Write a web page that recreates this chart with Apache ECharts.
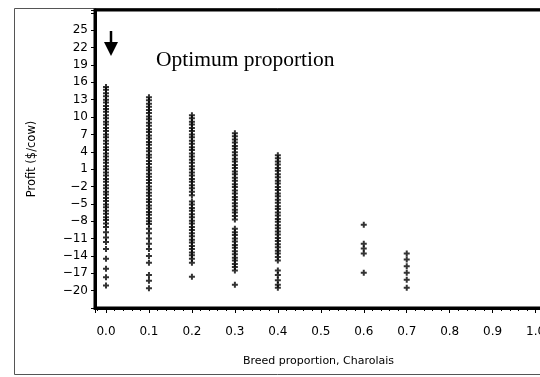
<!DOCTYPE html>
<html>
<head>
<meta charset="utf-8">
<script src="https://cdn.jsdelivr.net/npm/echarts@6.0.0/dist/echarts.min.js"></script>
<style>
    html, body { margin: 0; padding: 0; background: #fff; }
    #chart { width: 540px; height: 377px; }
</style>
</head>
<body>
<div id="chart"></div>
<script>
// breed proportion (Charolais) of each column
var proportions = [0.0, 0.1, 0.2, 0.3, 0.4, 0.6, 0.7];
// profit values ($/cow)
var profit00 = [15.2, 14.7, 14.1, 13.6, 13.0, 12.5, 11.9, 11.4, 10.9, 10.3, 9.8, 9.2, 8.7, 8.1, 7.6, 7.0, 6.5,
    5.9, 5.4, 4.8, 4.3, 3.7, 3.2, 2.6, 2.1, 1.5, 1.0, 0.4, -0.1, -0.7, -1.2, -1.8, -2.3, -2.9, -3.4, -4.0,
    -4.5, -5.1, -5.6, -6.2, -6.7, -7.3, -7.8, -8.4, -9.0, -9.9, -10.8, -11.6, -12.8, -14.5, -16.2, -17.7, -19.1];
var profit01 = [13.4, 12.9, 12.3, 11.8, 11.2, 10.7, 10.1, 9.6, 9.0, 8.5, 7.9, 7.4, 6.8, 6.3, 5.7, 5.2, 4.6,
    4.1, 3.5, 3.0, 2.4, 1.9, 1.3, 0.8, 0.2, -0.3, -0.9, -1.4, -2.0, -2.5, -3.1, -3.6, -4.2, -4.7, -5.3,
    -5.8, -6.4, -6.9, -7.5, -8.0, -8.5, -9.3, -10.1, -11.0, -11.9, -12.8, -14.0, -15.2, -17.3, -18.3, -19.6];
var profit02 = [10.3, 9.8, 9.2, 8.7, 8.1, 7.6, 7.0, 6.5, 5.9, 5.4, 4.8, 4.3, 3.7, 3.2, 2.6, 2.1, 1.5, 1.0,
    0.4, -0.1, -0.7, -1.2, -1.8, -2.3, -2.9, -3.5, -4.6, -5.1, -5.7, -6.2, -6.8, -7.3, -7.9, -8.4, -9.0,
    -9.5, -10.1, -10.6, -11.2, -11.7, -12.3, -12.8, -13.4, -13.9, -14.5, -15.2, -17.6];
var profit03 = [7.2, 6.7, 6.1, 5.6, 5.0, 4.5, 3.9, 3.4, 2.8, 2.3, 1.7, 1.2, 0.6, 0.1, -0.5, -1.0, -1.6, -2.1,
    -2.7, -3.2, -3.8, -4.3, -4.9, -5.4, -6.0, -6.5, -7.1, -7.7, -9.3, -9.9, -10.4, -11.0, -11.5, -12.1,
    -12.6, -13.2, -13.7, -14.3, -14.8, -15.4, -15.9, -16.5, -19.0];
var profit04 = [3.4, 2.9, 2.3, 1.8, 1.2, 0.7, 0.1, -0.4, -1.0, -1.5, -2.1, -2.6, -3.2, -3.7, -4.3, -4.8, -5.4,
    -5.9, -6.5, -7.0, -7.6, -8.1, -8.7, -9.2, -9.8, -10.3, -10.9, -11.4, -12.0, -12.5, -13.1, -13.6,
    -14.2, -14.8, -16.5, -17.3, -18.2, -19.0, -19.5];
var profit06 = [-8.6, -11.9, -12.7, -13.6, -16.9];
var profit07 = [-13.6, -14.6, -15.8, -16.9, -18.1, -19.5];
var profitColumns = [profit00, profit01, profit02, profit03, profit04, profit06, profit07];

var yTickMin = -20;
var yTickMax = 25;

var points = [];
proportions.forEach(function (p, i) {
    profitColumns[i].forEach(function (v) {
        points.push([p, v]);
    });
});

var myChart = echarts.init(document.getElementById('chart'));
var font = 'DejaVu Sans';
var option = {
    animation: false,
    backgroundColor: '#fff',
    title: {
        text: 'Optimum proportion',
        left: 151,
        top: 44,
        textStyle: {
            fontFamily: 'Liberation Serif',
            fontSize: 21.5,
            fontWeight: 'normal',
            color: '#000'
        }
    },
    grid: {
        left: 95,
        top: 10,
        width: 475,
        bottom: 69,
        outerBoundsMode: 'none',
        show: true,
        borderColor: '#000',
        borderWidth: 3,
        backgroundColor: 'transparent'
    },
    xAxis: {
        type: 'value',
        min: -0.0256,
        max: 1.08,
        splitNumber: 11,
        name: 'Breed proportion, Charolais',
        nameLocation: 'middle',
        nameGap: 48,
        nameTextStyle: {
            fontFamily: font,
            fontSize: 11,
            color: '#000',
            padding: [0, 28, 0, 0]
        },
        axisLine: { onZero: false, lineStyle: { color: '#000', width: 3 } },
        axisTick: { length: 5, lineStyle: { color: '#000', width: 1 } },
        minorTick: { show: true, splitNumber: 5, length: 3, lineStyle: { color: '#000', width: 1 } },
        splitLine: { show: false },
        axisLabel: {
            fontFamily: font,
            fontSize: 12,
            color: '#000',
            margin: 18,
            formatter: function (v) {
                if (v < -0.001 || v > 1.001) return '';
                return v.toFixed(1);
            }
        }
    },
    yAxis: {
        type: 'value',
        min: -23,
        max: 28.5,
        interval: 3,
        name: 'Profit ($/cow)',
        nameLocation: 'middle',
        nameGap: 57,
        nameTextStyle: {
            fontFamily: font,
            fontSize: 11.5,
            color: '#000'
        },
        axisLine: { onZero: false, lineStyle: { color: '#000', width: 3 } },
        axisTick: { length: 4, lineStyle: { color: '#000', width: 1 } },
        splitLine: { show: false },
        axisLabel: {
            fontFamily: font,
            fontSize: 12,
            color: '#000',
            margin: 7,
            formatter: function (v) {
                if (v < yTickMin || v > yTickMax) return '';
                return v < 0 ? '\u2212' + (-v) : String(v);
            }
        }
    },
    graphic: [
        {
            type: 'rect',
            shape: { x: 14.5, y: 8.5, width: 700, height: 366 },
            style: { fill: 'none', stroke: '#555', lineWidth: 1 },
            silent: true,
            z: -1
        },
        {
            type: 'line',
            shape: { x1: 111, y1: 31, x2: 111, y2: 45 },
            style: { stroke: '#000', lineWidth: 2.5 }
        },
        {
            type: 'polygon',
            shape: { points: [[104, 42], [118, 42], [111, 56]] },
            style: { fill: '#000' }
        }
    ],
    series: [
        {
            type: 'scatter',
            symbol: 'path://M2,0H4V2H6V4H4V6H2V4H0V2H2Z',
            symbolSize: 6,
            itemStyle: { color: '#000' },
            data: points
        }
    ]
};
myChart.setOption(option, true);
</script>
</body>
</html>
